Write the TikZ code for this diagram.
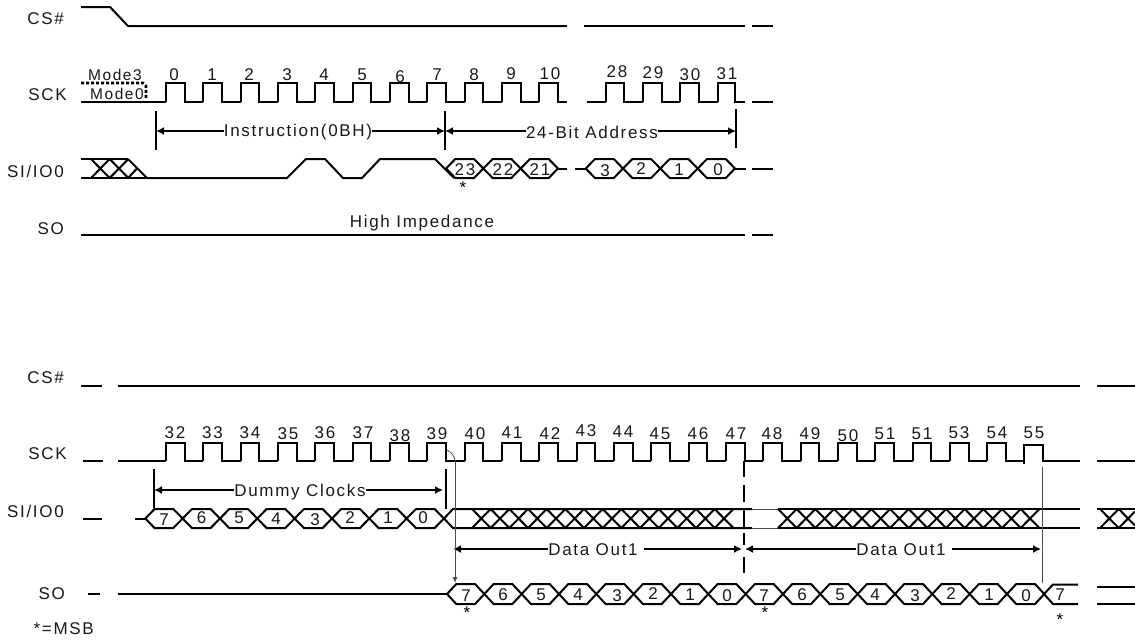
\documentclass[tikz,border=0pt]{standalone}
\usepackage{fontspec}
\usetikzlibrary{arrows.meta}
\setmainfont[LetterSpace=10]{Liberation Sans}
\newcommand{\hexchain}[4]{% y, first x, count, half height
  \pgfmathsetmacro{\yy}{#1}%
  \foreach \i in {1,...,#3}{%
    \pgfmathsetmacro{\xa}{#2+(\i-1)*37.33}%
    \pgfmathsetmacro{\xb}{\xa+37.33}%
    \draw[sig] (\xa,\yy) -- (\xa+9.3,\yy-#4) -- (\xb-9.3,\yy-#4) -- (\xb,\yy) -- (\xb-9.3,\yy+#4) -- (\xa+9.3,\yy+#4) -- cycle;
  }%
}
\newcommand{\clockpulses}[4]{% first rise x, count, high y, low y
  \foreach \i in {1,...,#2}{%
    \pgfmathsetmacro{\xa}{#1+(\i-1)*37.33}%
    \pgfmathsetmacro{\xb}{\xa+18.67}%
    \pgfmathsetmacro{\xc}{\xa+37.33}%
    \draw[sig] (\xa,#4) -- (\xa,#3) -- (\xb,#3) -- (\xb,#4) -- (\xc,#4);
  }%
}
\newcommand{\xcells}[4]{% first x, count, top y, bottom y
  \foreach \i in {1,...,#2}{%
    \pgfmathsetmacro{\xa}{#1+(\i-1)*18.67}%
    \pgfmathsetmacro{\xb}{\xa+18.67}%
    \draw[sig] (\xa,#3) -- (\xb,#4) (\xa,#4) -- (\xb,#3);
  }%
}
\tikzset{
  sig/.style={line width=2pt,line join=miter,black},
  bar/.style={line width=2pt,black},
  meas/.style={line width=1.7pt,black},
  thinl/.style={line width=0.8pt,black!70},
  lab/.style={font=\fontsize{17}{18}\selectfont,inner sep=0pt,text=black!90},
  modelab/.style={font=\fontsize{15.5}{16}\selectfont,inner sep=0pt,text=black!90},
  sym/.style={lab,anchor=east},
  num/.style={lab},
  star/.style={font=\fontsize{17}{17}\selectfont,inner sep=0pt},
  >={Latex[length=8pt,width=8pt]}
}
\begin{document}
\begin{tikzpicture}[x=1pt,y=-1pt]
\useasboundingbox (0,0) rectangle (1135,641);
\fill[white] (0,0) rectangle (1135,641);
% ---- signal names
\node[sym] (n1) at (64,19) {CS\#};
\node[sym] (n2) at (67,95) {SCK};
\node[sym] (n3) at (64,171) {SI/IO0};
\node[sym] (n4) at (64,229) {SO};
\node[sym] (n5) at (64,378) {CS\#};
\node[sym] (n6) at (67,454) {SCK};
\node[sym] (n7) at (64,511) {SI/IO0};
\node[sym] (n8) at (65,594) {SO};
\node[lab,anchor=east] (msb) at (94,629) {*=MSB};
% ---- top: CS#
\draw[sig] (81,7) -- (110,7) -- (128,26) -- (567,26);
\draw[sig] (584,26) -- (745,26);
\draw[sig] (752,26) -- (773,26);
% ---- top: SCK
\draw[sig,line width=2.6pt,dash pattern=on 3pt off 2pt] (81,83) -- (143,83) -- (146,86) -- (146,99);
\draw[sig] (81,102) -- (166,102);
\clockpulses{166}{10}{83}{102}
\draw[sig] (539.3,102) -- (539.3,83) -- (558,83) -- (558,102) -- (567,102);
\draw[sig] (586.7,102) -- (605.7,102);
\clockpulses{605.7}{3}{83}{102}
\draw[sig] (717.7,102) -- (717.7,83) -- (735,83) -- (735,102) -- (745,102);
\draw[sig] (752,102) -- (773,102);
\node[modelab] (m3) at (115,75) {Mode3};
\node[modelab] (m0) at (117,94) {Mode0};
\foreach \t/\x/\y in {0/174/75,1/212/75,2/249/75,3/287/75,4/324/75,5/362/75,6/400/77,7/437/75,8/474/75,9/511/74,10/550/74,28/617/72,29/653/73,30/690/75,31/727/74}
  \node[num] at (\x,\y) {\t};
% ---- top: measures
\draw[bar] (156,111) -- (156,150);
\draw[bar] (445,111) -- (445,150);
\draw[bar] (736,109) -- (736,148);
\node[lab] (ins) at (298,132.5) {Instruction(0BH)};
\node[lab] (adr) at (592,132) {24-Bit Address};
\draw[meas,<-] (156,131) -- (ins.west|-156,131);
\draw[meas,->] (ins.east|-156,131) -- (445,131);
\draw[meas,<-] (445,131) -- (adr.west|-445,131);
\draw[meas,->] (adr.east|-445,131) -- (736,131);
% ---- top: SI/IO0
\draw[sig] (81,159) -- (128,159) (81,178) -- (147,178);
\xcells{91}{2}{159}{178}
\draw[sig] (128,159) -- (147,178) -- (287,178) -- (306,159) -- (325,159) -- (343,178) -- (362,178) -- (380,159) -- (435,159) -- (454,178);
\draw[sig] (128,178) -- (137,168.5);
\hexchain{168.5}{446}{3}{9.5}
\draw[sig] (558,168.5) -- (567,168.5);
\draw[sig] (575,168.5) -- (585.7,168.5);
\hexchain{168.5}{585.7}{4}{9.5}
\draw[sig] (735,168.5) -- (746,168.5);
\draw[sig] (752,168.5) -- (773,168.5);
\foreach \t/\x/\y in {23/465/170,22/503/170,21/540/170,3/605/171,2/641/169,1/679/170,0/718/170}
  \node[num] at (\x,\y) {\t};
\node[star] at (463,188) {*};
% ---- top: SO
\draw[sig] (81,234.5) -- (745,234.5);
\draw[sig] (752,234.5) -- (773,234.5);
\node[lab] (hi) at (422,223) {High Impedance};
% ---- bottom: CS#
\draw[sig] (81,386) -- (102,386);
\draw[sig] (118,386) -- (1080,386);
\draw[sig] (1097,386) -- (1135,386);
% ---- bottom: SCK
\draw[sig] (83,461) -- (103,461);
\draw[sig] (118,461) -- (166,461);
\clockpulses{166}{23}{443}{461}
\draw[sig] (1024,464) -- (1024,445) -- (1043,445) -- (1043,461) -- (1080,461);
\draw[sig] (1097,461) -- (1135,461);
\foreach \t/\x/\y in {32/175/433,33/212.5/433,34/250/433,35/288/434,36/325/433,37/363/433,38/400/436,39/437/433.5,40/475/434,41/512/433,42/550/434,43/586/431,44/623/432,45/660/434,46/698/434,47/736/434,48/772/434,49/810/434,50/848/436,51/885/434,51/922/434,53/959/433,54/997/433,55/1034/433}
  \node[num] at (\x,\y) {\t};
% ---- bottom: dummy clocks
\draw[bar] (154,469) -- (154,508);
\draw[bar] (446,469) -- (446,509);
\node[lab] (dum) at (300,492) {Dummy Clocks};
\draw[meas,<-] (154,490) -- (dum.west|-154,490);
\draw[meas,->] (dum.east|-154,490) -- (443,490);
% ---- bottom: SI/IO0
\draw[sig] (83,518.5) -- (102,518.5);
\draw[sig] (135,518.5) -- (145.3,518.5);
\hexchain{518.5}{145.3}{8}{9.5}
\draw[sig] (444,518.5) -- (453,509) -- (752,509);
\draw[sig] (444,518.5) -- (453,528) -- (752,528);
\draw[line width=1pt,black!70] (752,509) -- (778,509) (752,528) -- (778,528);
\draw[sig] (778,509) -- (1080,509) (778,528) -- (1080,528);
\xcells{472}{14}{509}{528}
\xcells{778}{14}{509}{528}
\draw[sig] (1097,509) -- (1135,509) (1097,528) -- (1135,528);
\xcells{1100}{1}{509}{528}
\draw[sig] (1118.7,509) -- (1135,525.5) (1118.7,528) -- (1135,511.5);
\foreach \t/\x/\y in {7/164/520,6/201.6/518,5/239/518,4/276/519,3/315/520,2/350/518,1/388/518,0/423/518}
  \node[num] at (\x,\y) {\t};
% ---- bottom: data out
\node[lab] (d1) at (593,549.5) {Data Out1};
\node[lab] (d2) at (901,549.5) {Data Out1};
\draw[meas,<-] (453,549) -- (d1.west|-453,549);
\draw[meas,->] ([xshift=6pt]d1.east|-453,549) -- (742,549);
\draw[meas,<-] (745,549) -- (d2.west|-745,549);
\draw[meas,->] ([xshift=6pt]d2.east|-745,549) -- (1041,549);
\foreach \ya/\yb in {461/477,485/502,510/527,533/545,557/573}
  \draw[bar] (744,\ya) -- (744,\yb);
\draw[thinl] (1042,467) -- (1042,583);
\draw[thinl] (447,450) .. controls (451,452) and (455,456) .. (455,461);
\draw[thinl,-{Latex[length=6pt,width=5pt]}] (455,461) -- (455,583);
% ---- bottom: SO
\draw[sig] (88,594) -- (100,594);
\draw[sig] (118,594) -- (447,594);
\hexchain{594}{447}{16}{10}
\draw[sig] (1078,584.5) -- (1053,584.5) -- (1044,594) -- (1053,604) -- (1078,604);
\draw[sig] (1097,587) -- (1135,587) (1097,604) -- (1135,604);
\foreach \t/\x/\y in {7/466/596,6/503/595,5/541/595,4/578/595,3/617/596,2/653/594,1/690/595,0/727/596,7/764/596,6/802/595,5/840/595,4/875/595,3/915/596,2/951/594,1/989/595,0/1026/596,7/1060/595}
  \node[num] at (\x,\y) {\t};
\node[star] at (467,613) {*};
\node[star] at (765,613) {*};
\node[star] at (1060,620) {*};
\end{tikzpicture}
\end{document}
